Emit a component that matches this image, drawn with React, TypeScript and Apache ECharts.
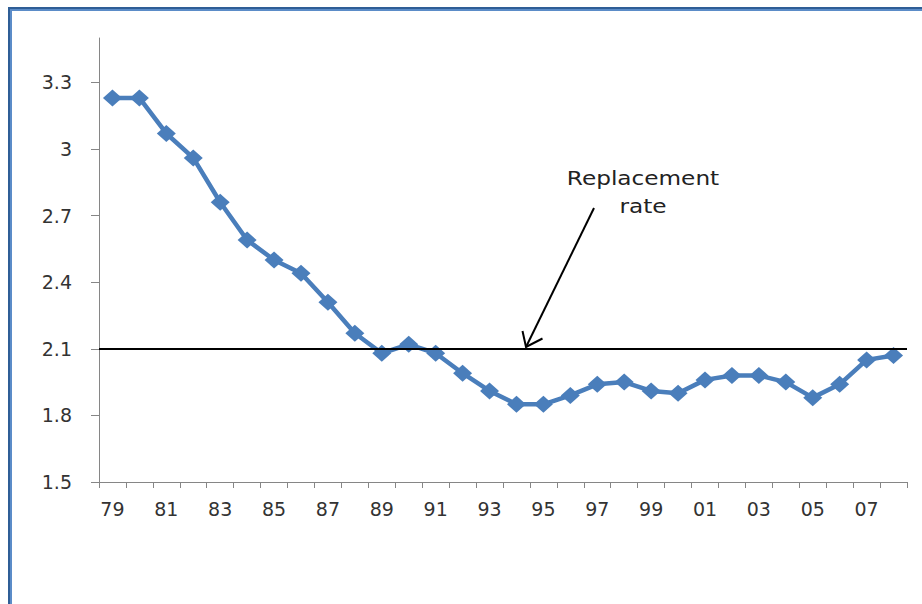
import React, { useEffect, useRef } from "react";
import * as echarts from "echarts";

const years = ["79","80","81","82","83","84","85","86","87","88","89","90","91","92","93","94","95","96","97","98","99","00","01","02","03","04","05","06","07","08"];
const fertility = [3.23,3.23,3.07,2.96,2.76,2.59,2.50,2.44,2.31,2.17,2.08,2.12,2.08,1.99,1.91,1.85,1.85,1.89,1.94,1.95,1.91,1.90,1.96,1.98,1.98,1.95,1.88,1.94,2.05,2.07];
const replacementRate = 2.1;
const yTicks = [1.5, 1.8, 2.1, 2.4, 2.7, 3.0, 3.3];
const annotationLines = ["Replacement", "rate"];

const FONT = "DejaVu Sans, Verdana, sans-serif";

export default function App() {
  const ref = useRef<HTMLDivElement>(null);
  useEffect(() => {
    if (!ref.current) return;
    const chart = echarts.init(ref.current, undefined, { renderer: "svg" });
    chart.setOption({
      animation: false,
      backgroundColor: "#ffffff",
      grid: { left: 99, right: 15, top: 38, bottom: 122 },
      xAxis: {
        type: "category",
        data: years,
        boundaryGap: true,
        axisLine: { lineStyle: { color: "#868686", width: 1 } },
        axisTick: { show: true, interval: 0, length: 6, lineStyle: { color: "#868686" } },
        axisLabel: { interval: 1, margin: 17, fontSize: 19, fontFamily: FONT, color: "#333" },
        splitLine: { show: false },
      },
      yAxis: {
        type: "value",
        min: 1.5,
        max: 3.5,
        interval: 0.3,
        axisLine: { show: true, lineStyle: { color: "#868686", width: 1 } },
        axisTick: { show: true, length: 8, customValues: yTicks, lineStyle: { color: "#868686" } },
        axisLabel: {
          customValues: yTicks,
          margin: 27,
          fontSize: 19,
          fontFamily: FONT,
          color: "#333",
          formatter: (v: number) => String(Math.round(v * 10) / 10),
        },
        splitLine: { show: false },
      },
      series: [
        {
          type: "line",
          data: fertility,
          symbol: "diamond",
          symbolSize: [19, 17],
          lineStyle: { color: "#4a7ebb", width: 4.5 },
          itemStyle: { color: "#4a7ebb" },
          z: 2,
          markLine: {
            silent: true,
            symbol: "none",
            label: { show: false },
            lineStyle: { color: "#000", width: 2, type: "solid" },
            data: [{ yAxis: replacementRate }],
            z: 10,
          },
        },
      ],
      graphic: [
        { type: "rect", shape: { x: 8, y: 7, width: 914, height: 2 }, style: { fill: "#2f5e96" }, silent: true },
        { type: "rect", shape: { x: 8, y: 9, width: 914, height: 2 }, style: { fill: "#5b8cc8" }, silent: true },
        { type: "rect", shape: { x: 8, y: 7, width: 2, height: 597 }, style: { fill: "#2f5e96" }, silent: true },
        { type: "rect", shape: { x: 10, y: 9, width: 2, height: 595 }, style: { fill: "#5b8cc8" }, silent: true },
        {
          type: "text",
          x: 643,
          y: 164,
          scaleX: 1.16,
          style: {
            text: annotationLines.join("\n"),
            fontSize: 20,
            lineHeight: 28,
            fontFamily: FONT,
            fill: "#222",
            align: "center",
            verticalAlign: "top",
          },
        },
        {
          type: "line",
          shape: { x1: 594, y1: 208, x2: 526, y2: 347 },
          style: { stroke: "#000", lineWidth: 2 },
          z: 20,
        },
        {
          type: "polyline",
          shape: { points: [[522.5, 331], [526, 347], [542.5, 338.5]] },
          style: { stroke: "#000", lineWidth: 2, fill: "none" },
          z: 20,
        },
      ],
    });
    return () => chart.dispose();
  }, []);
  return (
    <div
      ref={ref}
      style={{ position: "absolute", left: 0, top: 0, width: 922, height: 604 }}
    />
  );
}
